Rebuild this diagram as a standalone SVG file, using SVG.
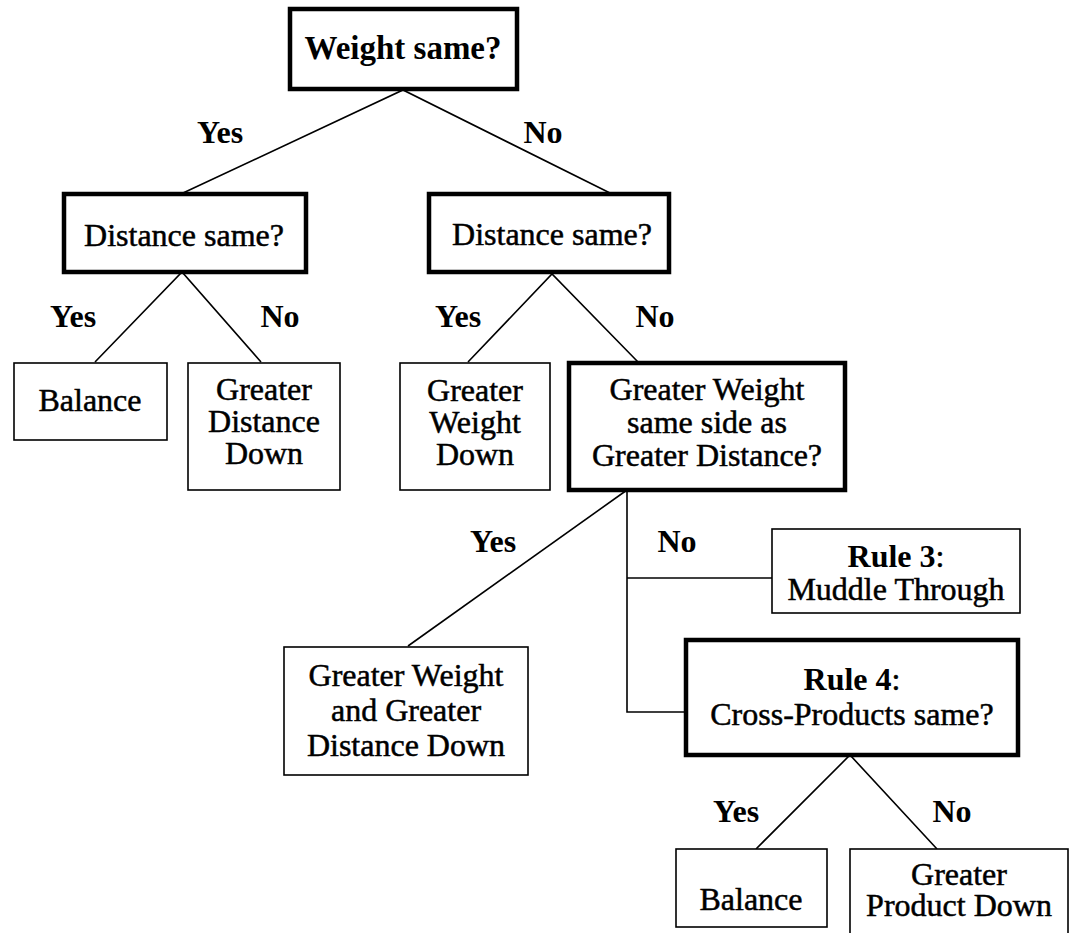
<svg xmlns="http://www.w3.org/2000/svg" width="1070" height="933" viewBox="0 0 1070 933">
<style>
.thick{fill:#fff;stroke:#000;stroke-width:4.5}
.thin{fill:#fff;stroke:#000;stroke-width:1.6}
.c{fill:none;stroke:#000;stroke-width:1.6}
text{font-family:"Liberation Serif","Times New Roman",serif;fill:#000;text-anchor:middle}
.t{font-size:32px;stroke:#000;stroke-width:0.5}
.b{font-size:33px;font-weight:bold}
.l{font-size:32px;font-weight:bold}
</style>
<rect width="1070" height="933" fill="#fff"/>
<g id="connectors">
<polyline class="c" points="183,193 403,90 610,193"/>
<polyline class="c" points="95,362 182,272 261,362"/>
<polyline class="c" points="468,362 552,274 638,362"/>
<line class="c" x1="627" y1="490" x2="408" y2="646"/>
<polyline class="c" points="627,490 627,712 685,712"/>
<line class="c" x1="627" y1="578" x2="772" y2="578"/>
<polyline class="c" points="756,849 850,755 937,849"/>
</g>
<g id="labels">
<text class="l" x="220" y="143">Yes</text>
<text class="l" x="543" y="143">No</text>
<text class="l" x="73" y="327">Yes</text>
<text class="l" x="280" y="327">No</text>
<text class="l" x="458" y="327">Yes</text>
<text class="l" x="655" y="327">No</text>
<text class="l" x="493" y="552">Yes</text>
<text class="l" x="677" y="552">No</text>
<text class="l" x="736" y="822">Yes</text>
<text class="l" x="952" y="822">No</text>
</g>
<g id="n-weight">
<rect class="thick" x="290" y="9" width="227" height="80"/>
<text class="b" x="403" y="59">Weight same?</text>
</g>
<g id="n-dist-left">
<rect class="thick" x="64" y="194" width="242" height="78"/>
<text class="t" x="184" y="246">Distance same?</text>
</g>
<g id="n-dist-right">
<rect class="thick" x="429" y="194" width="240" height="78"/>
<text class="t" x="552" y="245">Distance same?</text>
</g>
<g id="n-balance1">
<rect class="thin" x="14" y="363" width="153" height="77"/>
<text class="t" x="90" y="411">Balance</text>
</g>
<g id="n-gdd">
<rect class="thin" x="188" y="363" width="152" height="127"/>
<text class="t" x="264" y="400">Greater</text>
<text class="t" x="264" y="432">Distance</text>
<text class="t" x="264" y="464">Down</text>
</g>
<g id="n-gwd">
<rect class="thin" x="400" y="363" width="150" height="127"/>
<text class="t" x="475" y="401">Greater</text>
<text class="t" x="475" y="433">Weight</text>
<text class="t" x="475" y="465">Down</text>
</g>
<g id="n-same-side">
<rect class="thick" x="569" y="363" width="276" height="127"/>
<text class="t" x="707" y="400">Greater Weight</text>
<text class="t" x="707" y="433">same side as</text>
<text class="t" x="707" y="466">Greater Distance?</text>
</g>
<g id="n-gwgd">
<rect class="thin" x="284" y="647" width="244" height="128"/>
<text class="t" x="406" y="686">Greater Weight</text>
<text class="t" x="406" y="721">and Greater</text>
<text class="t" x="406" y="756">Distance Down</text>
</g>
<g id="n-rule3">
<rect class="thin" x="772" y="529" width="248" height="84"/>
<text class="t" x="896" y="567"><tspan font-weight="bold" stroke-width="0">Rule 3</tspan>:</text>
<text class="t" x="896" y="600">Muddle Through</text>
</g>
<g id="n-rule4">
<rect class="thick" x="686" y="640" width="332" height="115"/>
<text class="t" x="852" y="690"><tspan font-weight="bold" stroke-width="0">Rule 4</tspan>:</text>
<text class="t" x="852" y="725">Cross-Products same?</text>
</g>
<g id="n-balance2">
<rect class="thin" x="676" y="849" width="151" height="78"/>
<text class="t" x="751" y="910">Balance</text>
</g>
<g id="n-gpd">
<rect class="thin" x="850" y="849" width="218" height="90"/>
<text class="t" x="959" y="885">Greater</text>
<text class="t" x="959" y="916">Product Down</text>
</g>
</svg>
